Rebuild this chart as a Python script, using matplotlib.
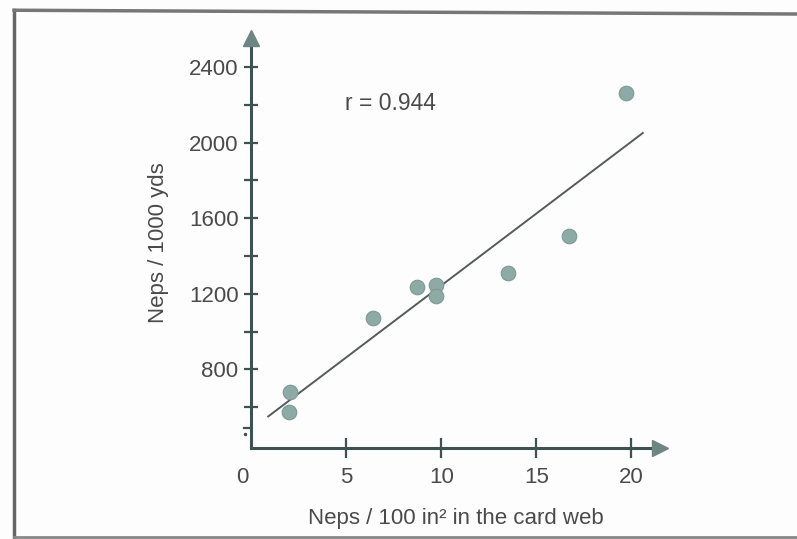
import numpy as np
import matplotlib.pyplot as plt
from matplotlib.lines import Line2D

plt.rcParams['font.family'] = ['Liberation Sans', 'DejaVu Sans']

# neps in card web vs neps in yarn
web_neps = [2.0, 2.05, 6.4, 8.7, 9.7, 9.7, 13.5, 16.7, 19.7]
yarn_neps = [575, 680, 1072, 1236, 1247, 1188, 1310, 1506, 2262]
r_text = 'r = 0.944'

yticks_major = [800, 1200, 1600, 2000, 2400]
yticks_minor = [600, 1000, 1400, 1800, 2200]
xticks = [5, 10, 15, 20]

axis_col = '#3e5250'
text_col = '#4a4a4a'
dot_col = '#8eaaa7'
fs = 16

fig = plt.figure(figsize=(7.97, 5.39), dpi=100, facecolor='#fdfdfd')
ax = fig.add_axes([0.315, 0.169, 0.513, 0.76])
ax.set_facecolor('none')

ax.set_xlim(0, 21.5)
ax.set_ylim(384, 2553)

# least squares line
k, b = np.polyfit(web_neps, yarn_neps, 1)
xl = np.array([0.9, 20.6])
ax.plot(xl, k * xl + b, color='#555b5a', lw=1.4, zorder=2)

ax.scatter(web_neps, yarn_neps, s=110, color=dot_col, edgecolor='#7c9996',
           linewidth=0.8, zorder=3)

ax.text(4.95, 2210, r_text, fontsize=fs + 0.5, color=text_col, va='center', ha='left')

for s in ['top', 'right']:
    ax.spines[s].set_visible(False)
for s in ['left', 'bottom']:
    ax.spines[s].set_color(axis_col)
    ax.spines[s].set_linewidth(2.2)

ax.set_yticks(yticks_major)
ax.set_yticks(yticks_minor, minor=True)
ax.set_yticklabels([str(v) for v in yticks_major])
ax.set_xticks(xticks)
ax.set_xticklabels([str(v) for v in xticks])
ax.tick_params(axis='y', which='both', direction='inout', length=10, width=1.6,
               color=axis_col, labelsize=fs, labelcolor=text_col, pad=4)
ax.tick_params(axis='x', direction='inout', length=14, width=1.6,
               color=axis_col, labelsize=fs, labelcolor=text_col, pad=7)
# lone "0" label at the origin
ax.annotate('0', xy=(0, 0), xycoords=ax.get_xaxis_transform(), xytext=(-6, -14),
            textcoords='offset points', fontsize=fs, color=text_col,
            ha='center', va='top')

# arrow heads on the axes
ax.plot([0], [1], marker='^', ms=11, color='#6d8583', transform=ax.transAxes,
        clip_on=False, zorder=4)
ax.plot([1], [0], marker='>', ms=11, color='#6d8583', transform=ax.transAxes,
        clip_on=False, zorder=4)

# axis break mark near origin
ax.plot([-0.35, 0], [487, 487], color=axis_col, lw=1.6, clip_on=False)
ax.plot([-0.3], [455], marker='.', ms=3, color=axis_col, clip_on=False)

ax.set_xlabel('Neps / 100 in² in the card web', fontsize=fs, color=text_col, labelpad=14)
ax.set_ylabel('Neps / 1000 yds', fontsize=fs, color=text_col, labelpad=14)

# scanned page frame
fig.add_artist(Line2D([0.0176, 0.0176], [0.004, 0.981], color='#666', lw=2.5))
fig.add_artist(Line2D([0.0176, 1.0], [0.981, 0.974], color='#777', lw=2.5))
fig.add_artist(Line2D([0.0176, 1.0], [0.004, 0.004], color='#888', lw=2))

fig.savefig('out.png', dpi=100, facecolor=fig.get_facecolor())
